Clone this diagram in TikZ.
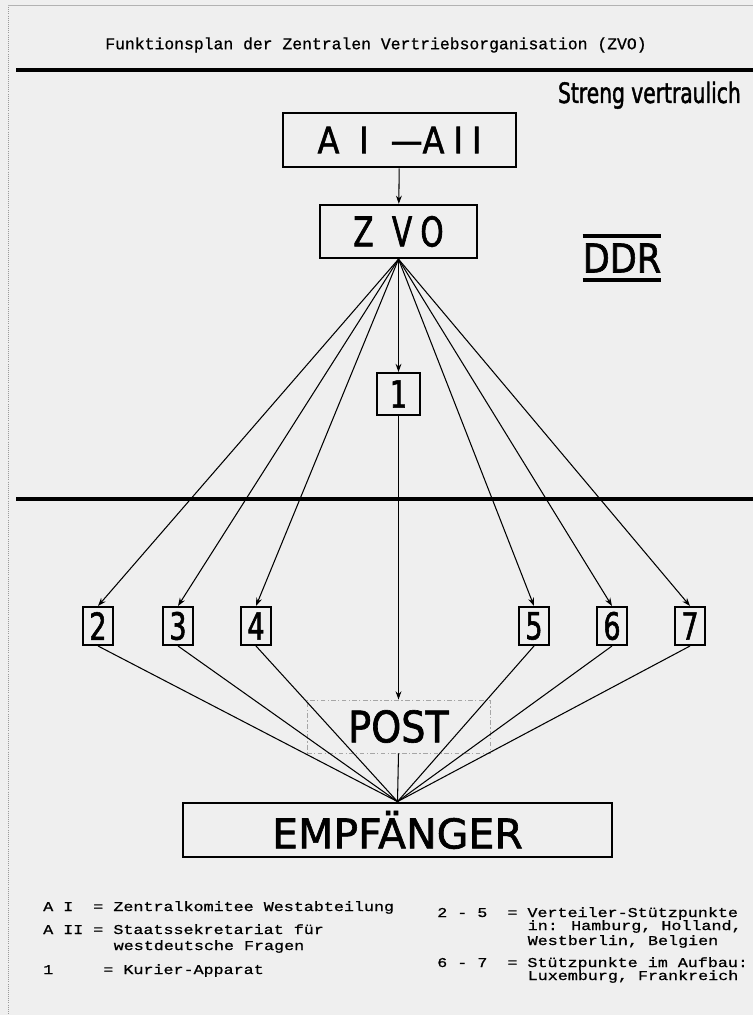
\documentclass[tikz,border=0pt]{standalone}
\usepackage{fontspec}
\newfontfamily\typefont[FakeBold=0.8]{Liberation Mono}
\newfontfamily\legendfont[FakeStretch=1.24, FakeBold=0.8]{Liberation Mono}
\newfontfamily\boxfont[FakeStretch=0.88, FakeBold=1.5]{DejaVu Sans}
\newfontfamily\widefont[FakeBold=1.5]{DejaVu Sans}
\newfontfamily\narrowfont[FakeStretch=0.72, FakeBold=1.5]{DejaVu Sans}
\usetikzlibrary{arrows.meta}
\definecolor{paper}{HTML}{EFEFEF}
\tikzset{
  box/.style={
    draw,
    line width=2.2pt,
    inner sep=0pt,
  },
  numbox/.style={
    box,
    line width=1.7pt,
    minimum width=0.9cm,
    minimum height=1.14cm,
    font=\narrowfont\fontsize{32}{32}\selectfont,
  },
  rule/.style={
    line width=3.4pt,
  },
  arrow/.style={
    line width=0.9pt,
    -{Stealth[length=7pt, width=5pt]},
  },
  link/.style={
    line width=0.9pt,
  },
  legend/.style={
    anchor=base west,
    inner sep=0pt,
    font=\legendfont\fontsize{11.5}{13}\selectfont,
  },
}

\begin{document}
\begin{tikzpicture}[x=0.03cm, y=-0.03cm]
  \useasboundingbox (0, 0) rectangle (753, 1015);
  \fill[paper] (0, 0) rectangle (753, 1015);
  \draw[black!40, densely dotted, line width=0.8pt] (8, 5) -- (8, 1015);
  \draw[black!30, line width=0.6pt] (8, 5) -- (753, 5);

  \node[inner sep=0pt, font=\typefont\fontsize{14}{17}\selectfont] (title)
    at (376, 45) {Funktionsplan der Zentralen Vertriebsorganisation (ZVO)};
  \draw[rule] (16, 70) -- (753, 70);
  \draw[rule] (16, 499) -- (753, 499);

  \node[anchor=base east, inner sep=0pt,
    font=\narrowfont\fontsize{24}{24}\selectfont] (secret) at (741, 103)
    {Streng vertraulich};

  \node[box, minimum width=6.99cm, minimum height=1.62cm,
    font=\boxfont\fontsize{31}{31}\selectfont] (ai) at (399.5, 140)
    {A\hspace{0.55em}I\hspace{0.6em}—A\hspace{0.25em}I\hspace{0.25em}I};
  \node[box, line width=2pt, minimum width=4.71cm, minimum height=1.59cm,
    font=\narrowfont\fontsize{35}{35}\selectfont] (zvo) at (398.5, 231.5)
    {Z\hspace{0.45em}V\hspace{0.2em}O};

  \node[inner xsep=0pt, inner ysep=0.21cm,
    font=\boxfont\fontsize{34}{34}\selectfont] (ddr) at (622, 258) {DDR};
  \draw[rule] (ddr.north west) -- (ddr.north east);
  \draw[rule] (ddr.south west) -- (ddr.south east);

  \node[numbox, minimum width=1.29cm, minimum height=1.26cm] (one)
    at (398.5, 394) {1};

  \node[box, draw=black!35, line width=0.8pt,
    dash pattern=on 4pt off 2pt on 1pt off 2pt,
    minimum width=5.49cm, minimum height=1.59cm,
    font=\boxfont\fontsize{37}{37}\selectfont] (post) at (398.5, 726.5) {POST};

  \node[box, line width=2.4pt, minimum width=12.87cm, minimum height=1.62cm,
    font=\widefont\fontsize{35}{35}\selectfont] (empf) at (397.5, 830)
    {EMPFÄNGER};

  \draw[arrow] (ai) -- (zvo);
  \draw[arrow] (zvo.south) -- (one.north);
  \draw[arrow] (one.south) -- (post.north);
  \draw[link] (post.south) -- (empf.north);

  \foreach \i/\xpos in {2/98, 3/178, 4/256, 5/534, 6/612, 7/690} {
    \node[numbox] (n\i) at (\xpos, 626) {\i};
    \draw[arrow] (zvo.south) -- (n\i.north);
    \draw[link] (n\i.south) -- (empf.north);
  }

  \node[legend] (keyai) at (43, 911) {A~I~~=~Zentralkomitee Westabteilung};
  \node[legend] (keyaii) at (43, 934) {A~II~=~Staatssekretariat für};
  \node[legend] (keyaiib) at (113.5, 950) {westdeutsche Fragen};
  \node[legend] (keyone) at (43, 974) {1~~~~~=~Kurier-Apparat};
  \node[legend] (keyfive) at (437, 917) {2~-~5~~=~Verteiler-Stützpunkte};
  \node[legend] (keyfiveb) at (527.5, 930) {in: Hamburg, Holland,};
  \node[legend] (keyfivec) at (527.5, 945) {Westberlin, Belgien};
  \node[legend] (keyseven) at (437, 967) {6~-~7~~=~Stützpunkte im Aufbau:};
  \node[legend] (keysevenb) at (527.5, 980) {Luxemburg, Frankreich};
\end{tikzpicture}
\end{document}
